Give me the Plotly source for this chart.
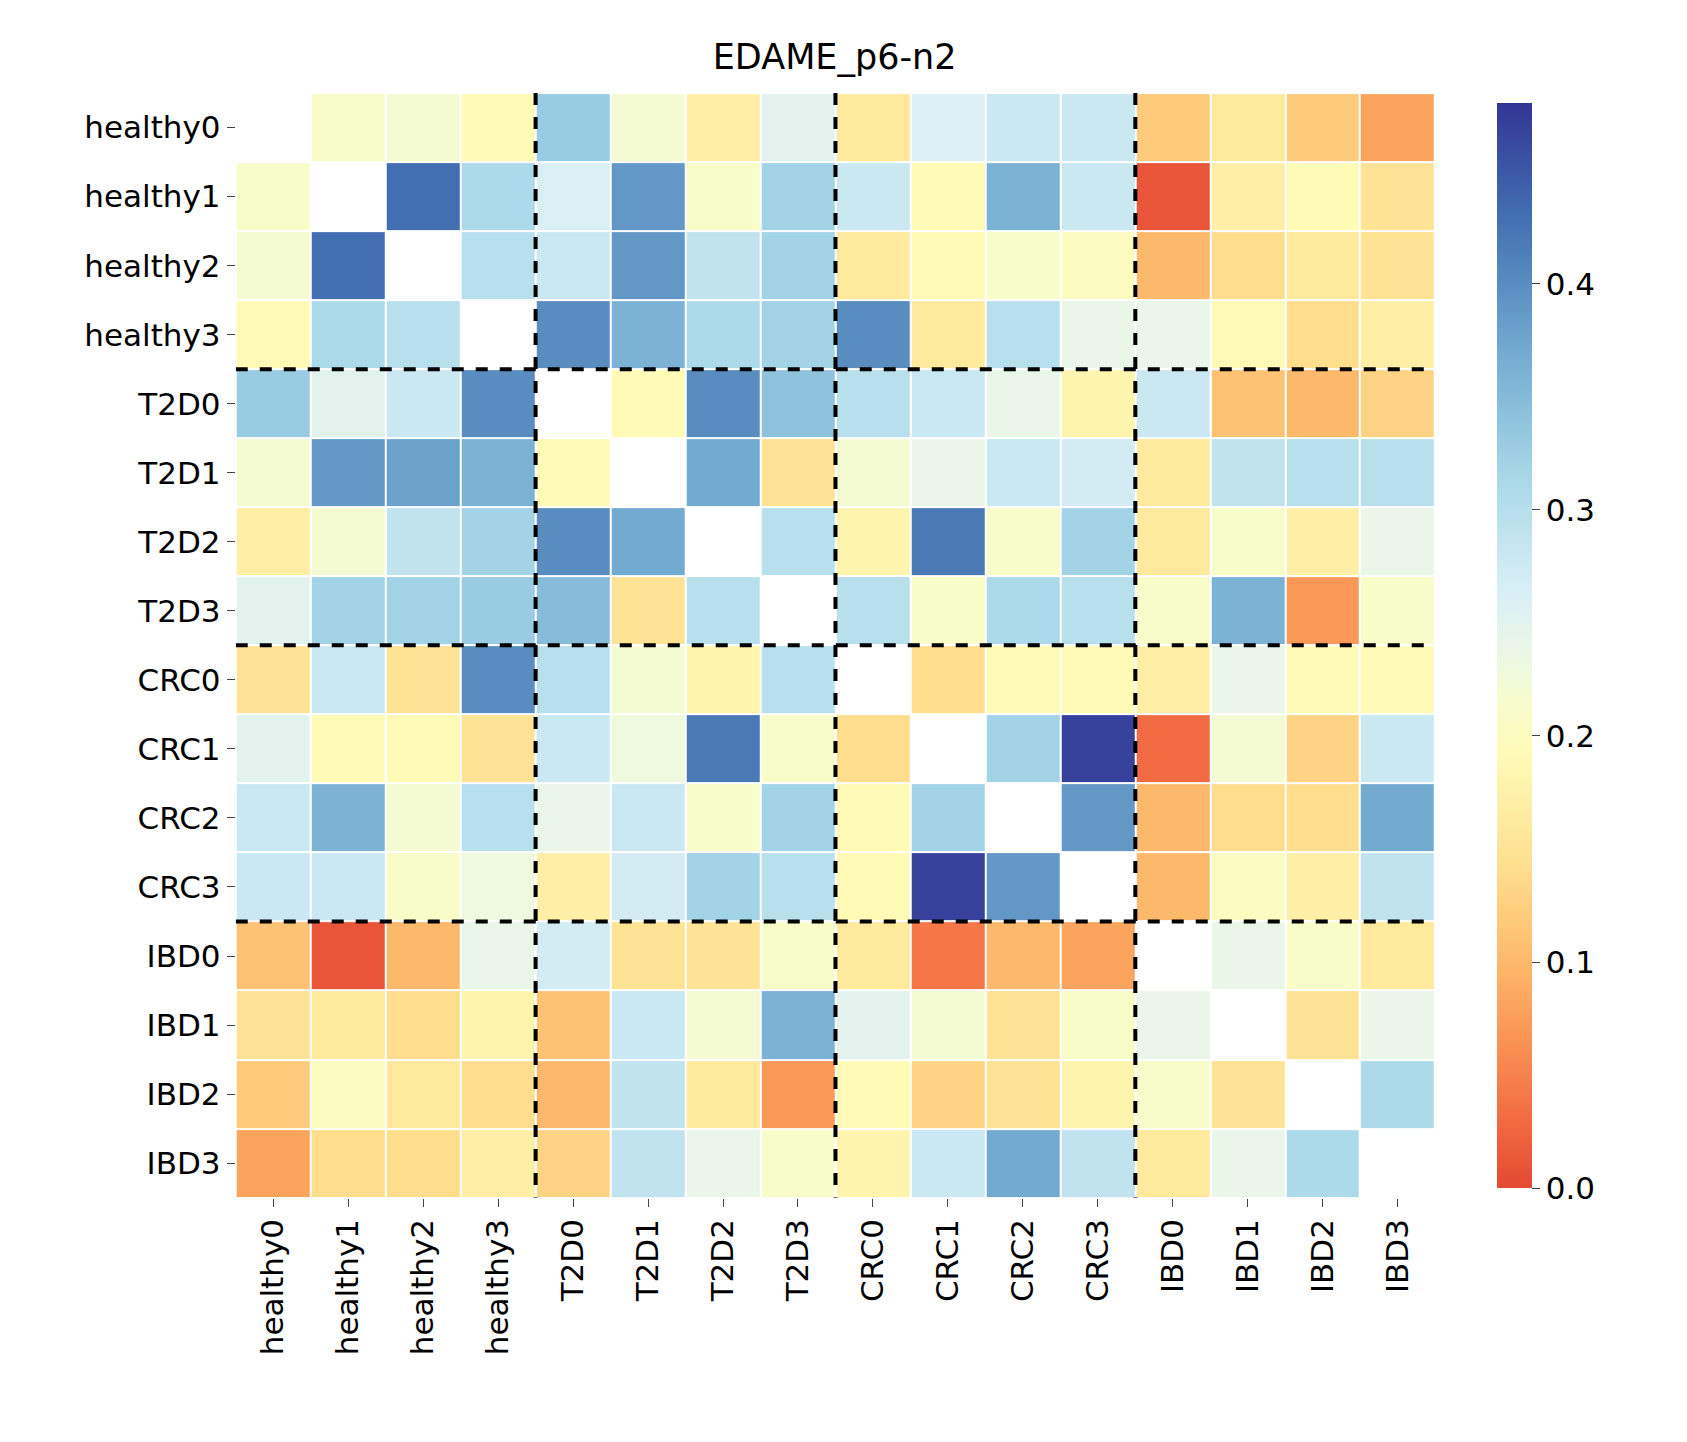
import numpy as np
import plotly.graph_objects as go

labels = ['healthy0', 'healthy1', 'healthy2', 'healthy3',
          'T2D0', 'T2D1', 'T2D2', 'T2D3',
          'CRC0', 'CRC1', 'CRC2', 'CRC3',
          'IBD0', 'IBD1', 'IBD2', 'IBD3']

N = None
values = [
    [N, 0.21, 0.22, 0.19, 0.33, 0.22, 0.17, 0.25, 0.16, 0.26, 0.28, 0.28, 0.12, 0.16, 0.12, 0.08],
    [0.21, N, 0.43, 0.31, 0.26, 0.39, 0.21, 0.32, 0.28, 0.19, 0.36, 0.28, 0.01, 0.17, 0.19, 0.15],
    [0.22, 0.43, N, 0.30, 0.28, 0.39, 0.29, 0.32, 0.16, 0.19, 0.21, 0.20, 0.10, 0.14, 0.16, 0.15],
    [0.19, 0.31, 0.30, N, 0.40, 0.36, 0.31, 0.32, 0.40, 0.16, 0.30, 0.24, 0.24, 0.19, 0.14, 0.17],
    [0.33, 0.25, 0.28, 0.40, N, 0.19, 0.40, 0.34, 0.30, 0.28, 0.24, 0.18, 0.28, 0.11, 0.10, 0.13],
    [0.22, 0.39, 0.38, 0.36, 0.19, N, 0.37, 0.15, 0.22, 0.24, 0.28, 0.27, 0.16, 0.29, 0.30, 0.30],
    [0.17, 0.22, 0.29, 0.32, 0.40, 0.37, N, 0.30, 0.18, 0.42, 0.21, 0.32, 0.16, 0.21, 0.17, 0.24],
    [0.25, 0.32, 0.32, 0.33, 0.35, 0.15, 0.30, N, 0.30, 0.21, 0.31, 0.30, 0.21, 0.36, 0.07, 0.21],
    [0.15, 0.28, 0.15, 0.40, 0.30, 0.22, 0.18, 0.30, N, 0.14, 0.19, 0.19, 0.17, 0.24, 0.19, 0.19],
    [0.25, 0.19, 0.19, 0.15, 0.28, 0.23, 0.42, 0.21, 0.14, N, 0.32, 0.47, 0.03, 0.22, 0.13, 0.28],
    [0.28, 0.36, 0.22, 0.30, 0.24, 0.28, 0.21, 0.32, 0.19, 0.32, N, 0.39, 0.10, 0.14, 0.14, 0.37],
    [0.28, 0.28, 0.21, 0.23, 0.17, 0.27, 0.32, 0.30, 0.19, 0.47, 0.39, N, 0.10, 0.20, 0.17, 0.29],
    [0.11, 0.01, 0.10, 0.24, 0.27, 0.15, 0.15, 0.21, 0.16, 0.04, 0.10, 0.08, N, 0.24, 0.21, 0.16],
    [0.15, 0.16, 0.14, 0.18, 0.11, 0.28, 0.22, 0.36, 0.25, 0.22, 0.15, 0.21, 0.24, N, 0.15, 0.24],
    [0.12, 0.20, 0.16, 0.14, 0.10, 0.29, 0.16, 0.07, 0.19, 0.13, 0.15, 0.18, 0.21, 0.15, N, 0.31],
    [0.08, 0.14, 0.14, 0.17, 0.13, 0.29, 0.24, 0.21, 0.18, 0.28, 0.37, 0.29, 0.16, 0.24, 0.31, N],
]
group_bounds = [3.5, 7.5, 11.5]

# RdYlBu, cropped as seaborn does with center=0.2, vmin=0, vmax=0.48
rdylbu = ['#a50026', '#d73027', '#f46d43', '#fdae61', '#fee090', '#ffffbf',
          '#e0f3f8', '#abd9e9', '#74add1', '#4575b4', '#313695']
vmin, vmax, center = 0.0, 0.48, 0.2
half = max(vmax - center, center - vmin)
lo, hi = center - half, center + half


def hex2rgb(h):
    return np.array([int(h[i:i + 2], 16) for i in (1, 3, 5)], dtype=float)


def sample(t):
    pos = t * (len(rdylbu) - 1)
    i = min(int(pos), len(rdylbu) - 2)
    f = pos - i
    c = hex2rgb(rdylbu[i]) * (1 - f) + hex2rgb(rdylbu[i + 1]) * f
    return 'rgb(%d,%d,%d)' % tuple(c.round())


colorscale = []
for s in np.linspace(0, 1, 21):
    v = vmin + s * (vmax - vmin)
    colorscale.append([s, sample((v - lo) / (hi - lo))])

z = np.array([[np.nan if v is None else v for v in row] for row in values])

fig = go.Figure(go.Heatmap(
    z=z, x=list(range(16)), y=list(range(16)),
    zmin=vmin, zmax=vmax, colorscale=colorscale,
    xgap=2, ygap=2, hoverongaps=False,
    colorbar=dict(x=0.877, xanchor='left', y=0.941, yanchor='top', len=0.766,
                  thickness=35, outlinewidth=0, ticks='outside', ticklen=8,
                  tickvals=[0, 0.1, 0.2, 0.3, 0.4], tickformat='.1f',
                  tickfont=dict(size=31)),
))

shapes = []
for b in group_bounds:
    shapes.append(dict(type='line', x0=b, x1=b, y0=-0.5, y1=15.5,
                       line=dict(color='black', width=4, dash='dash')))
    shapes.append(dict(type='line', x0=-0.5, x1=15.5, y0=b, y1=b,
                       line=dict(color='black', width=4, dash='dash')))

fig.update_layout(
    width=1687, height=1442,
    margin=dict(l=0, r=0, t=0, b=0),
    paper_bgcolor='white', plot_bgcolor='white',
    font=dict(family='DejaVu Sans', size=31, color='black'),
    title=dict(text='EDAME_p6-n2', x=0.49, xanchor='center', y=0.966, yanchor='middle',
               font=dict(size=35)),
    xaxis=dict(domain=[0.135, 0.846], range=[-0.5, 15.5], tickvals=list(range(16)),
               ticktext=labels, tickangle=-90, ticks='outside', ticklen=8,
               showgrid=False, zeroline=False),
    yaxis=dict(domain=[0.175, 0.941], range=[15.5, -0.5], tickvals=list(range(16)),
               ticktext=labels, ticks='outside', ticklen=8,
               showgrid=False, zeroline=False),
    shapes=shapes,
)

fig.write_html('out.html')
